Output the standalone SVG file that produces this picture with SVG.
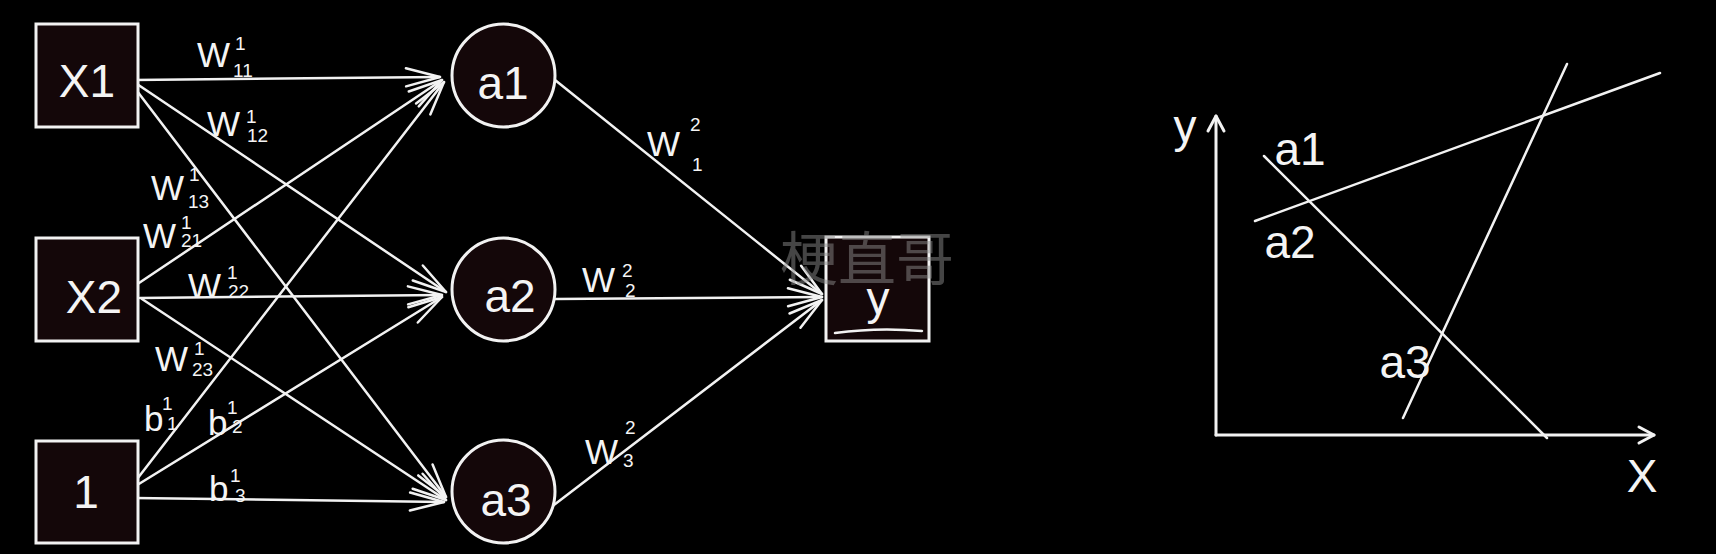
<svg xmlns="http://www.w3.org/2000/svg" width="1716" height="554" viewBox="0 0 1716 554">
  <defs>
    <style>
      .bg { fill: #000; }
      .box { fill: #140709; stroke: #f2f2f2; stroke-width: 3; }
      .edge { fill: none; stroke: #f2f2f2; stroke-width: 2.5; stroke-linecap: round; }
      .axis { fill: none; stroke: #f2f2f2; stroke-width: 3; stroke-linecap: round; }
      .plot { fill: none; stroke: #f2f2f2; stroke-width: 2.5; stroke-linecap: round; }
      .lbl { font-family: "Liberation Sans", Arial, sans-serif; fill: #f4f4f4; font-size: 46px; }
      .w { font-family: "Liberation Sans", Arial, sans-serif; fill: #f4f4f4; font-size: 35px; }
      .s { font-size: 19px; }
      .wm { font-family: "Noto Sans CJK SC", "Noto Sans", sans-serif; fill: #8a8a8a; fill-opacity: 0.5; font-size: 58px; }
    </style>
    <marker id="arr" markerUnits="userSpaceOnUse" markerWidth="44" markerHeight="28" viewBox="-40 -14 44 28" refX="0" refY="0" orient="auto">
      <path d="M-34,-9 L0,0 L-34,9" fill="none" stroke="#f2f2f2" stroke-width="2.5" stroke-linecap="round" stroke-linejoin="round"/>
    </marker>
    <marker id="axarr" markerUnits="userSpaceOnUse" markerWidth="24" markerHeight="24" viewBox="-20 -12 24 24" refX="0" refY="0" orient="auto">
      <path d="M-15,-8 L0,0 L-15,8" fill="none" stroke="#f2f2f2" stroke-width="3" stroke-linecap="round" stroke-linejoin="round"/>
    </marker>
  </defs>

  <rect class="bg" x="0" y="0" width="1716" height="554"/>

  <g id="connectors">
    <line class="edge" x1="134" y1="80" x2="440" y2="77" marker-end="url(#arr)"/>
    <line class="edge" x1="134" y1="82" x2="446" y2="292" marker-end="url(#arr)"/>
    <line class="edge" x1="134" y1="87" x2="446" y2="497" marker-end="url(#arr)"/>
    <line class="edge" x1="136" y1="285" x2="442" y2="80" marker-end="url(#arr)"/>
    <line class="edge" x1="140" y1="298" x2="442" y2="295" marker-end="url(#arr)"/>
    <line class="edge" x1="142" y1="299" x2="446" y2="500" marker-end="url(#arr)"/>
    <line class="edge" x1="134" y1="483" x2="444" y2="82" marker-end="url(#arr)"/>
    <line class="edge" x1="134" y1="487" x2="442" y2="297" marker-end="url(#arr)"/>
    <line class="edge" x1="134" y1="498" x2="444" y2="502" marker-end="url(#arr)"/>
    <line class="edge" x1="555" y1="80" x2="822" y2="294" marker-end="url(#arr)"/>
    <line class="edge" x1="555" y1="299" x2="822" y2="297" marker-end="url(#arr)"/>
    <line class="edge" x1="550" y1="508" x2="822" y2="300" marker-end="url(#arr)"/>
  </g>

  <g id="edge-labels">
    <text class="w"><tspan x="197" y="67">W</tspan><tspan class="s" x="235" y="50">1</tspan><tspan class="s" x="233" y="77">11</tspan></text>
    <text class="w"><tspan x="207" y="136">W</tspan><tspan class="s" x="246" y="123">1</tspan><tspan class="s" x="247" y="142">12</tspan></text>
    <text class="w"><tspan x="151" y="200">W</tspan><tspan class="s" x="189" y="181">1</tspan><tspan class="s" x="188" y="208">13</tspan></text>
    <text class="w"><tspan x="143" y="248">W</tspan><tspan class="s" x="181" y="229">1</tspan><tspan class="s" x="181" y="247">21</tspan></text>
    <text class="w"><tspan x="188" y="298">W</tspan><tspan class="s" x="227" y="279">1</tspan><tspan class="s" x="228" y="298">22</tspan></text>
    <text class="w"><tspan x="155" y="371">W</tspan><tspan class="s" x="194" y="355">1</tspan><tspan class="s" x="192" y="376">23</tspan></text>
    <text class="w"><tspan x="144" y="431">b</tspan><tspan class="s" x="162" y="410">1</tspan><tspan class="s" x="167" y="430">1</tspan></text>
    <text class="w"><tspan x="208" y="435">b</tspan><tspan class="s" x="227" y="414">1</tspan><tspan class="s" x="232" y="433">2</tspan></text>
    <text class="w"><tspan x="209" y="501">b</tspan><tspan class="s" x="230" y="482">1</tspan><tspan class="s" x="235" y="502">3</tspan></text>
    <text class="w"><tspan x="647" y="156">W</tspan><tspan class="s" x="690" y="131">2</tspan><tspan class="s" x="692" y="171">1</tspan></text>
    <text class="w"><tspan x="582" y="292">W</tspan><tspan class="s" x="622" y="277">2</tspan><tspan class="s" x="625" y="297">2</tspan></text>
    <text class="w"><tspan x="585" y="464">W</tspan><tspan class="s" x="625" y="434">2</tspan><tspan class="s" x="623" y="467">3</tspan></text>
  </g>

  <g id="node-x1">
    <rect class="box" x="36" y="24" width="102" height="103"/>
    <text class="lbl" x="87" y="97" text-anchor="middle">X1</text>
  </g>
  <g id="node-x2">
    <rect class="box" x="36" y="238" width="102" height="103"/>
    <text class="lbl" x="94" y="313" text-anchor="middle">X2</text>
  </g>
  <g id="node-bias">
    <rect class="box" x="36" y="441" width="102" height="102"/>
    <text class="lbl" x="86" y="508" text-anchor="middle">1</text>
  </g>
  <g id="node-a1">
    <circle class="box" cx="503.5" cy="75.5" r="51.5"/>
    <text class="lbl" x="503" y="99" text-anchor="middle">a1</text>
  </g>
  <g id="node-a2">
    <circle class="box" cx="503.5" cy="289.5" r="51.5"/>
    <text class="lbl" x="510" y="312" text-anchor="middle">a2</text>
  </g>
  <g id="node-a3">
    <circle class="box" cx="503.5" cy="491.5" r="51.5"/>
    <text class="lbl" x="506" y="516" text-anchor="middle">a3</text>
  </g>
  <g id="node-y">
    <rect class="box" x="826" y="237" width="103" height="104"/>
    <text class="lbl" x="878" y="314" text-anchor="middle">y</text>
    <path class="edge" d="M835,333 Q878,327 922,331"/>
  </g>

  <text class="wm" x="867" y="280" text-anchor="middle">梗直哥</text>

  <g id="plot">
    <line class="axis" x1="1216" y1="435" x2="1216" y2="116" marker-end="url(#axarr)"/>
    <line class="axis" x1="1216" y1="435" x2="1654" y2="435" marker-end="url(#axarr)"/>
    <line class="plot" x1="1255" y1="221" x2="1660" y2="73"/>
    <line class="plot" x1="1264" y1="156" x2="1547" y2="438"/>
    <line class="plot" x1="1403" y1="418" x2="1567" y2="64"/>
    <text class="lbl" x="1185" y="142" text-anchor="middle" font-size="48">y</text>
    <text class="lbl" x="1642" y="492" text-anchor="middle" font-size="46">X</text>
    <text class="lbl" x="1300" y="165" text-anchor="middle" font-size="44">a1</text>
    <text class="lbl" x="1290" y="258" text-anchor="middle" font-size="40">a2</text>
    <text class="lbl" x="1405" y="378" text-anchor="middle" font-size="44">a3</text>
  </g>
</svg>
